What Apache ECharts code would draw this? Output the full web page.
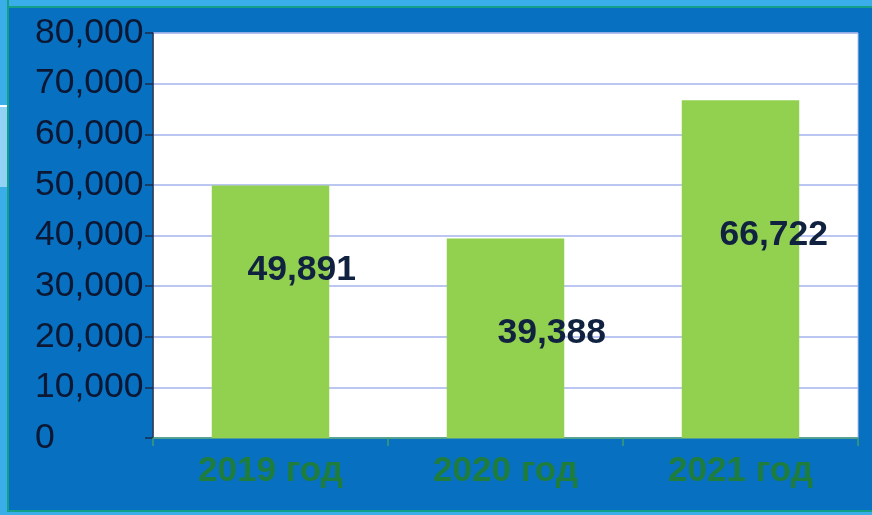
<!DOCTYPE html>
<html>
<head>
<meta charset="utf-8">
<script src="https://cdn.jsdelivr.net/npm/echarts@6/dist/echarts.min.js"></script>
<style>
  html, body { margin: 0; padding: 0; width: 872px; height: 515px; overflow: hidden; background: #0870c0; }
  #topstrip { position: absolute; left: 0; top: 0; width: 872px; height: 6px; background: #3aaee8; border-bottom: 2px solid #14a088; }
  #leftstrip { position: absolute; left: 0; top: 0; width: 7px; height: 515px; background: #3aaee8; border-right: 2px solid #14a088; }
  #band { position: absolute; left: 0; top: 105px; width: 7px; height: 80px; background: #92d2f4; border-top: 2px solid #ffffff; }
  #bottomline { position: absolute; left: 7px; top: 510px; width: 865px; height: 2px; background: #14a088; }
  #bottomstrip { position: absolute; left: 0; top: 512px; width: 872px; height: 3px; background: #3aaee8; }
  #chart { position: absolute; left: 0; top: 0; width: 872px; height: 515px; }
</style>
</head>
<body>
<div id="topstrip"></div>
<div id="leftstrip"></div>
<div id="band"></div>
<div id="bottomline"></div>
<div id="bottomstrip"></div>
<div id="chart"></div>
<script>
const categories = ['2019 год', '2020 год', '2021 год'];
const values = [49891, 39388, 66722];
const yTicks = { min: 0, max: 80000, interval: 10000 };
// label anchor inside each bar, in pixels from the bar's top-left corner
const labelAnchors = [[90, 85], [105, 95], [92, 135]];

const font = '"Liberation Sans", Arial, sans-serif';
const chart = echarts.init(document.getElementById('chart'), null, { renderer: 'canvas' });

const option = {
  backgroundColor: 'transparent',
  animation: false,
  grid: {
    left: 153, top: 33, right: 14, bottom: 77,
    show: true, backgroundColor: '#ffffff', borderColor: '#b4bcec', borderWidth: 1
  },
  xAxis: {
    type: 'category',
    data: categories,
    axisLine: { show: true, lineStyle: { color: '#3e9c74', width: 1.5 } },
    axisTick: { show: true, alignWithLabel: false, length: 8, lineStyle: { color: '#3e9c74', width: 1.5 } },
    axisLabel: { color: '#1e7d3c', fontSize: 35, fontWeight: 'bold', fontFamily: font, margin: 16 },
    splitLine: { show: false }
  },
  yAxis: {
    type: 'value',
    min: yTicks.min, max: yTicks.max, interval: yTicks.interval,
    axisLine: { show: true, lineStyle: { color: '#1a2a4a', width: 1.5 } },
    axisTick: { show: true, length: 8, lineStyle: { color: '#1a2a4a', width: 1.5 } },
    axisLabel: {
      color: '#0b1733', fontSize: 35.5, fontFamily: font, align: 'left', margin: 118,
      formatter: v => v.toLocaleString('en-US')
    },
    splitLine: { show: true, lineStyle: { color: '#a6b4ec', width: 1.5 } }
  },
  series: [{
    type: 'bar',
    barWidth: '50%',
    itemStyle: { color: '#92d050' },
    data: values.map((v, i) => ({
      value: v,
      label: {
        show: true,
        position: labelAnchors[i],
        align: 'center',
        verticalAlign: 'middle',
        color: '#10223f',
        fontSize: 35.5,
        fontWeight: 'bold',
        fontFamily: font,
        formatter: p => p.value.toLocaleString('en-US')
      }
    }))
  }]
};
chart.setOption(option);
</script>
</body>
</html>
